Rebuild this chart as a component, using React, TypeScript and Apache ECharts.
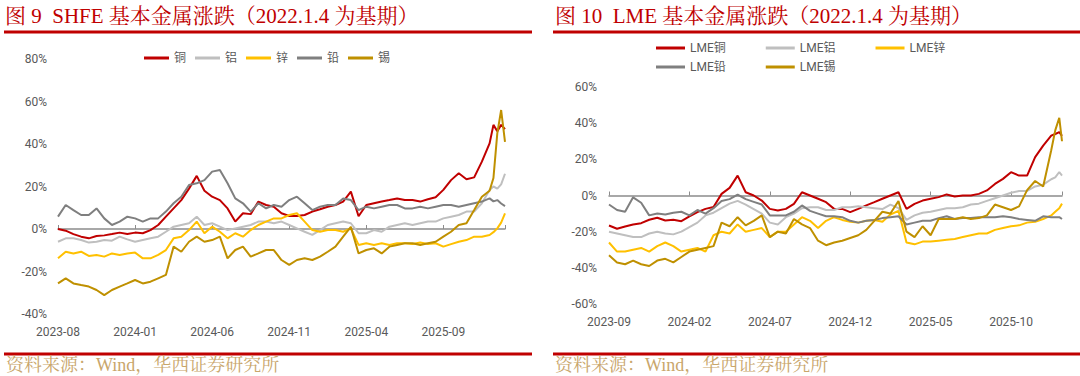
import React, { useEffect, useRef } from "react";
import * as echarts from "echarts";

// ---------- data ----------
// x positions: months elapsed since the first tick label of each chart
const shfeX = [
  0, 0.5, 1, 1.5, 2, 2.5, 3, 3.5, 4, 4.5, 5, 5.5, 6, 6.5, 7, 7.5, 8, 8.5, 9, 9.5,
  10, 10.5, 11, 11.5, 12, 12.5, 13, 13.5, 14, 14.5, 15, 15.5, 16, 16.5, 17, 17.5, 18, 18.5, 19, 19.5,
  20, 20.5, 21, 21.5, 22, 22.5, 23, 23.5, 24, 24.5, 25, 25.5, 26, 26.5, 27, 27.5, 28,
  28.25, 28.5, 28.75, 29,
];
const shfeTickLabels = ["2023-08", "2024-01", "2024-06", "2024-11", "2025-04", "2025-09"];
const shfeNames = ["铜", "铝", "锌", "铅", "锡"];

const shfeCu = [
  0, -0.8, -2.4, -3.6, -4.4, -3.3, -3, -2.4, -1.7, -2.4, -1.7, -2, -0.5, 1.9, 5.8, 9.7, 13.6, 19, 25, 18,
  15.2, 13.6, 9.7, 3.5, 7.4, 7, 12.9, 11.3, 10.5, 7.4, 6.1, 6.1, 6.6, 8.2, 9.3, 10.5, 11.3, 12.9, 17.6, 6,
  11.3, 12.1, 12.9, 13.6, 14.4, 13.6, 13.6, 12.9, 14, 14.9, 18.4, 23, 26.2, 23.4, 24.3, 31.7, 40.3,
  49, 46, 49, 47,
];
const shfeAl = [
  -6, -4.4, -4.4, -5.2, -6.4, -6, -5.2, -5.5, -3.6, -4.9, -6, -5.2, -4.4, -3.6, -1.3, 1.1, 1.9, 2.7, 5.8, 1.9,
  2.7, 1.1, -0.5, 0.3, 1.1, 1.9, 3.5, 3.5, 2.7, 3.5, 1.9, 0.3, -1.3, -2.8, -0.5, 1.9, 2.7, 3.5, 2.7, -2,
  -2, -0.5, -1.3, 1.1, 1.9, 2.7, 1.9, 2.7, 3.5, 3.5, 5, 5.8, 6.6, 8.2, 8.2, 12.1, 18.4,
  20, 19, 21, 26,
];
const shfeZn = [
  -13.8, -10.7, -11.5, -10.7, -12.7, -12.2, -13, -11.5, -12.2, -11.5, -11.1, -13.8, -13.8, -12.2, -9.9, -4.4, -3.6, -0.5, 3.5, -2,
  1.1, -1.3, -4.4, -2, -3.6, -0.5, 1.9, 3.5, 5, 5, 6.6, 7.4, 3.5, -0.5, -1.3, -0.5, -0.5, -1.3, 0.3, -7.5,
  -6.7, -7.5, -6.7, -7.5, -6.7, -6.7, -7.1, -6.4, -7.1, -6.7, -8.3, -7.1, -6, -5.2, -3.6, -3.6, -2.8,
  -1.5, 0.3, 3, 7.4,
];
const shfePb = [
  5.8, 11.3, 8.9, 6.6, 6.6, 9.7, 5, 1.9, 3.5, 5.8, 5, 3.5, 5, 5, 8.2, 12.1, 15.2, 20.7, 21.5, 23,
  27, 27.8, 21.5, 14.4, 12.1, 8.2, 12.1, 9.7, 11.3, 10.5, 13.6, 15.2, 12.1, 8.9, 10.5, 11.3, 11.3, 14.4, 13.6, 8.9,
  10.5, 9.7, 10.5, 11.3, 11.3, 9.7, 9.7, 10.5, 9.7, 10.5, 11.3, 11.3, 10.5, 11.3, 12.1, 12.9, 14.4,
  13, 13.6, 12, 10.8,
];
const shfeSn = [
  -25.6, -23.2, -25.6, -26.4, -27.1, -28.7, -31.1, -28.7, -27.1, -25.6, -24, -25.6, -24.8, -23.2, -21.6, -8.3, -10.7, -6, -3.6, -6,
  -5.2, -3.6, -13.8, -9.9, -8.3, -13, -11.5, -9.9, -9.9, -14.6, -16.9, -14.6, -13.8, -14.6, -13, -10.7, -8.3, -3.6, 1, -11.5,
  -9.9, -9.1, -11.5, -8.3, -7.5, -6.7, -6.7, -7.5, -6.7, -6, -3.6, -1.3, 1.9, 2.7, 8.9, 15.2, 18,
  24, 45, 56, 41,
];

const lmeX = [
  0, 0.5, 1, 1.5, 2, 2.5, 3, 3.5, 4, 4.5, 5, 5.5, 6, 6.5, 7, 7.5, 8, 8.5, 9, 9.5,
  10, 10.5, 11, 11.5, 12, 12.5, 13, 13.5, 14, 14.5, 15, 15.5, 16, 16.5, 17, 17.5, 18, 18.5, 19, 19.5,
  20, 20.5, 21, 21.5, 22, 22.5, 23, 23.5, 24, 24.5, 25, 25.5, 26, 26.5, 27, 27.5,
  27.75, 28, 28.17,
];
const lmeTickLabels = ["2023-09", "2024-02", "2024-07", "2024-12", "2025-05", "2025-10"];
const lmeNames = ["LME铜", "LME铝", "LME锌", "LME铅", "LME锡"];

const lmeCu = [
  -16.6, -18.4, -17.1, -16, -15.3, -13.4, -12.3, -13.8, -13.4, -14.2, -11.6, -9.2, -7.4, -6.4, 0.9, 4.2, 11, 1.8, 0, -2.8,
  -7.4, -8.3, -7.4, -4.6, 1.8, 0, -1.8, -3.7, -7.4, -7.4, -9.2, -7.4, -5.5, -3.7, -1.8, 0, 1.8, -7.4, -4.6, -2.8,
  -1.8, -0.9, 0.6, -0.6, 0, 0, 0.9, 2.8, 6.4, 9.2, 12.9, 11, 11, 21.2, 27.6, 33.1,
  34, 35, 33,
];
const lmeAl = [
  -20, -21, -22, -23, -23, -21, -20, -21, -21.5, -20, -17.5, -15, -11, -9.5, -7, -4.5, -3, -5, -7.5, -10,
  -15, -16, -12, -10, -7, -6.5, -6.5, -8, -8, -6.5, -6.5, -6, -6.5, -7, -7.5, -5, -7, -13.5, -11, -9.5,
  -9, -8, -7, -7, -6.5, -5, -4.5, -3, -1.5, 0, 1.5, 2.5, 2.5, 5, 6, 9,
  10, 13, 11,
];
const lmeZn = [
  -26, -31, -31, -30, -29, -31, -28, -26, -28, -31, -30, -29, -31, -22, -20, -21, -16, -20, -19, -18,
  -23, -20, -20, -16, -12, -14, -18, -14, -12, -13.5, -14.5, -15, -14, -13.5, -14.5, -10.5, -8.5, -26, -27, -25.5,
  -25.5, -25, -24.5, -24, -23, -22, -21, -21, -19, -18, -17, -16.5, -15, -14.5, -13, -11,
  -9, -7, -4.5,
];
const lmePb = [
  -5, -8, -9, -1, -4, -11, -10, -10.5, -9.5, -9, -11, -8, -10, -7, -3, -2, 0.5, -2, -3.5, -5,
  -11, -11, -11, -9, -5.5, -8.5, -10, -11.5, -11.5, -12, -14, -15, -14, -13.5, -12.5, -12, -11.5, -16, -15, -14,
  -14, -12.5, -11.5, -13, -12.5, -12.5, -12, -12, -12, -11.5, -12, -13, -13.5, -14, -11.5, -12,
  -12, -12, -13,
];
const lmeSn = [
  -33, -37, -38, -36, -38, -39, -36, -35, -37, -34, -31, -30, -29, -28, -15, -17, -12, -16.5, -14, -11,
  -23, -20, -21, -13, -16, -18, -25, -27.5, -26, -25, -23.5, -22, -19, -14, -9, -10, -3, -20, -23, -17,
  -22, -13, -13, -13, -12, -13, -12.5, -11, -5, -6.5, -8, -6, 3, 8, 5, 25,
  36, 43, 30,
];

const seriesColors = ["#C00000", "#BFBFBF", "#FFC000", "#7F7F7F", "#BF9000"];

// ---------- styles ----------
const sansFont = 'Roboto, "Noto Sans CJK SC", sans-serif';
const serifFont = '"Liberation Serif", "Noto Serif CJK SC", "Noto Sans CJK SC", serif';
const labelColor = "#595959";
const brandRed = "#C00000";
const footColor = "#C9A66B";

function zip(xs: number[], ys: number[]) {
  return ys.map((y, i) => [xs[i], y]);
}

function tickFormatter(labels: string[]) {
  return (v: number) => {
    const i = Math.round(v / 5);
    return Math.abs(v - i * 5) < 1e-6 && labels[i] ? labels[i] : "";
  };
}

function labelAxis(gridIndex: number, max: number, labels: string[]) {
  return {
    type: "value",
    gridIndex,
    min: 0,
    max,
    interval: 5,
    axisLine: { show: false, onZero: false },
    axisTick: { show: false },
    splitLine: { show: false },
    axisLabel: {
      margin: 12,
      color: labelColor,
      fontSize: 12,
      fontFamily: sansFont,
      formatter: tickFormatter(labels),
    },
  };
}

function zeroAxis(gridIndex: number, max: number) {
  return {
    type: "value",
    gridIndex,
    position: "bottom",
    min: 0,
    max,
    interval: 5,
    axisLine: { show: true, onZero: true, lineStyle: { color: "#8C8C8C", width: 1.5 } },
    axisTick: { show: true, inside: true, length: 4, lineStyle: { color: "#8C8C8C", width: 1 } },
    axisLabel: { show: false },
    splitLine: { show: false },
  };
}

function valueAxis(gridIndex: number, min: number, max: number, margin: number) {
  return {
    type: "value",
    gridIndex,
    min,
    max,
    interval: 20,
    axisLine: { show: false },
    axisTick: { show: false },
    splitLine: { show: false },
    axisLabel: {
      margin,
      color: labelColor,
      fontSize: 12,
      fontFamily: sansFont,
      formatter: (v: number) => `${v}%`,
    },
  };
}

function lineSeries(name: string, color: string, xs: number[], ys: number[], xIdx: number, yIdx: number) {
  return {
    type: "line",
    name,
    xAxisIndex: xIdx,
    yAxisIndex: yIdx,
    data: zip(xs, ys),
    showSymbol: false,
    symbol: "none",
    color,
    lineStyle: { color, width: 2 },
    emphasis: { disabled: true },
  };
}

const shfeMax = shfeX[shfeX.length - 1];
const lmeMax = lmeX[lmeX.length - 1];

const shfeValues = [shfeCu, shfeAl, shfeZn, shfePb, shfeSn];
const lmeValues = [lmeCu, lmeAl, lmeZn, lmePb, lmeSn];

const legendText = { fontSize: 12, color: labelColor, fontFamily: sansFont };

const option: any = {
  animation: false,
  backgroundColor: "#ffffff",
  textStyle: { fontFamily: sansFont },
  grid: [
    { left: 58, top: 59, width: 447, height: 255 },
    { left: 609, top: 87, width: 453, height: 217 },
  ],
  xAxis: [
    labelAxis(0, shfeMax, shfeTickLabels),
    zeroAxis(0, shfeMax),
    labelAxis(1, lmeMax, lmeTickLabels),
    zeroAxis(1, lmeMax),
  ],
  yAxis: [valueAxis(0, -40, 80, 11), valueAxis(1, -60, 60, 12)],
  legend: [
    {
      data: shfeNames,
      left: 139,
      top: 47,
      icon: "rect",
      itemWidth: 25,
      itemHeight: 3,
      itemGap: 9,
      selectedMode: false,
      textStyle: legendText,
    },
    {
      data: lmeNames.slice(0, 3),
      left: 651,
      top: 37,
      icon: "rect",
      itemWidth: 29,
      itemHeight: 3,
      itemGap: 40,
      selectedMode: false,
      textStyle: legendText,
    },
    {
      data: lmeNames.slice(3),
      left: 651,
      top: 56,
      icon: "rect",
      itemWidth: 29,
      itemHeight: 3,
      itemGap: 40,
      selectedMode: false,
      textStyle: legendText,
    },
  ],
  series: [
    ...shfeNames.map((n, i) => lineSeries(n, seriesColors[i], shfeX, shfeValues[i], 0, 0)),
    ...lmeNames.map((n, i) => lineSeries(n, seriesColors[i], lmeX, lmeValues[i], 2, 1)),
  ],
  graphic: [
    {
      type: "text",
      x: 5,
      y: 16,
      style: {
        text: "图 9  SHFE 基本金属涨跌（2022.1.4 为基期）",
        fill: brandRed,
        font: `21px ${serifFont}`,
        verticalAlign: "middle",
      },
    },
    {
      type: "text",
      x: 555,
      y: 16,
      style: {
        text: "图 10  LME 基本金属涨跌（2022.1.4 为基期）",
        fill: brandRed,
        font: `21px ${serifFont}`,
        verticalAlign: "middle",
      },
    },
    { type: "rect", shape: { x: 4, y: 30.5, width: 528, height: 3 }, style: { fill: brandRed } },
    { type: "rect", shape: { x: 553, y: 30.5, width: 527, height: 3 }, style: { fill: brandRed } },
    { type: "rect", shape: { x: 4, y: 352.5, width: 528, height: 3 }, style: { fill: brandRed } },
    { type: "rect", shape: { x: 553, y: 352.5, width: 527, height: 3 }, style: { fill: brandRed } },
    {
      type: "text",
      x: 6,
      y: 365,
      style: {
        text: "资料来源：Wind，华西证券研究所",
        fill: footColor,
        font: `18px ${serifFont}`,
        verticalAlign: "middle",
      },
    },
    {
      type: "text",
      x: 555,
      y: 365,
      style: {
        text: "资料来源：Wind，华西证券研究所",
        fill: footColor,
        font: `18px ${serifFont}`,
        verticalAlign: "middle",
      },
    },
  ],
};

export default function App() {
  const ref = useRef<HTMLDivElement>(null);
  useEffect(() => {
    if (!ref.current) return;
    const chart = echarts.init(ref.current, null, { renderer: "svg" });
    chart.setOption(option);
    return () => chart.dispose();
  }, []);
  return (
    <div
      ref={ref}
      style={{ position: "absolute", left: 0, top: 0, width: 1080, height: 376, background: "#ffffff" }}
    />
  );
}
